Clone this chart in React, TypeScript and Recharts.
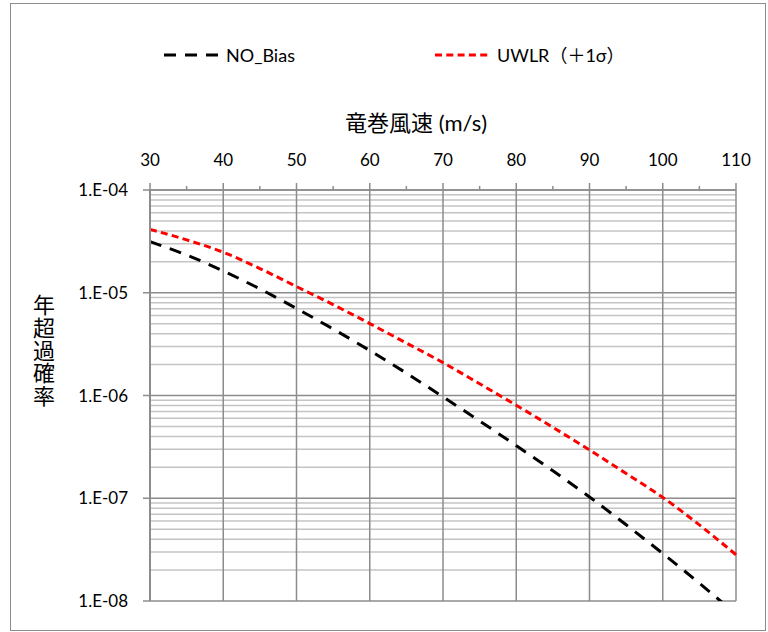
import { LineChart, Line, XAxis, YAxis, ReferenceLine } from "recharts";

// 竜巻風速 (m/s) vs 年超過確率, log scale
const speeds = [30, 35, 40, 45, 50, 55, 60, 65, 70, 75, 80, 85, 90, 95, 100, 105, 110];
const noBias = [
  3.14e-5, 2.33e-5, 1.63e-5, 1.09e-5, 7.03e-6, 4.44e-6, 2.74e-6, 1.65e-6, 9.7e-7,
  5.65e-7, 3.25e-7, 1.85e-7, 1.03e-7, 5.52e-8, 2.9e-8, 1.49e-8, 7.45e-9,
];
const uwlr = [
  4.14e-5, 3.27e-5, 2.48e-5, 1.72e-5, 1.15e-5, 7.67e-6, 5.01e-6, 3.24e-6, 2.09e-6,
  1.3e-6, 8.04e-7, 4.9e-7, 2.95e-7, 1.74e-7, 1.02e-7, 5.5e-8, 2.82e-8,
];
const xTicks = [30, 35, 40, 45, 50, 55, 60, 65, 70, 75, 80, 85, 90, 95, 100, 105, 110];
const xGrid = [40, 50, 60, 70, 80, 90, 100, 110];
const yTicks = [1e-4, 1e-5, 1e-6, 1e-7, 1e-8];
const yMinor = [-8, -7, -6, -5].flatMap((e) =>
  [2, 3, 4, 5, 6, 7, 8, 9].map((m) => Number(`${m}e${e}`))
);

const data = speeds.map((s, i) => ({ speed: s, noBias: noBias[i], uwlr: uwlr[i] }));

const FONT = "Lato, 'Noto Sans CJK JP', sans-serif";

function formatExp(v: number): string {
  const e = Math.round(Math.log10(v));
  return `1.E-${String(Math.abs(e)).padStart(2, "0")}`;
}

function TopTick({ x, y, payload }: { x?: number; y?: number; payload?: { value: number } }) {
  const v = payload?.value ?? 0;
  const major = v % 10 === 0;
  return (
    <g>
      <line x1={x} x2={x} y1={y} y2={(y ?? 0) - (major ? 7 : 4)} stroke="#8c8c8c" strokeWidth={1.5} />
      {major && (
        <text x={x} y={(y ?? 0) - 28} textAnchor="middle" dominantBaseline="middle" fontSize={17} fill="#000">
          {v}
        </text>
      )}
    </g>
  );
}

export default function App() {
  return (
    <div style={{ position: "absolute", left: 0, top: 0, width: 768, height: 632, fontFamily: FONT, background: "#fff" }}>
      <div
        style={{
          position: "absolute",
          left: 10,
          top: 3,
          width: 756,
          height: 628,
          border: "1.5px solid #8c8c8c",
          boxSizing: "border-box",
        }}
      />

      {/* legend */}
      <svg style={{ position: "absolute", left: 160, top: 48 }} width={64} height={14}>
        <line x1={4} x2={58} y1={7} y2={7} stroke="#000" strokeWidth={3} strokeDasharray="12 9" />
      </svg>
      <div style={{ position: "absolute", left: 226, top: 43, fontSize: 18, lineHeight: "24px", color: "#000" }}>
        NO_Bias
      </div>
      <svg style={{ position: "absolute", left: 431, top: 48 }} width={64} height={14}>
        <line x1={4} x2={60} y1={7} y2={7} stroke="#ff0000" strokeWidth={3} strokeDasharray="7 4.3" />
      </svg>
      <div style={{ position: "absolute", left: 497, top: 43, fontSize: 18, lineHeight: "24px", color: "#000" }}>
        UWLR（＋1σ）
      </div>

      {/* x title */}
      <div style={{ position: "absolute", left: 345, top: 109, fontSize: 22, lineHeight: "28px", color: "#000", whiteSpace: "nowrap" }}>
        竜巻風速 (m/s)
      </div>

      {/* y title */}
      <div
        style={{
          position: "absolute",
          left: 30,
          top: 294,
          fontSize: 22,
          lineHeight: "25px",
          letterSpacing: "0.6px",
          writingMode: "vertical-rl",
          textOrientation: "upright",
          color: "#000",
        }}
      >
        年超過確率
      </div>

      <div style={{ position: "absolute", left: 0, top: 0 }}>
        <LineChart width={768} height={632} data={data} margin={{ top: 160, right: 32, bottom: 31, left: 90 }}>
          {yMinor.map((v) => (
            <ReferenceLine key={`ym${v}`} y={v} stroke="#c4c4c4" strokeWidth={1.5} />
          ))}
          {yTicks.map((v) => (
            <ReferenceLine key={`yM${v}`} y={v} stroke="#8c8c8c" strokeWidth={1.5} />
          ))}
          {xGrid.map((v) => (
            <ReferenceLine key={`x${v}`} x={v} stroke="#8c8c8c" strokeWidth={1.5} />
          ))}
          <XAxis
            dataKey="speed"
            type="number"
            orientation="top"
            domain={[30, 110]}
            ticks={xTicks}
            interval={0}
            height={30}
            tickLine={false}
            tickSize={0}
            tickMargin={0}
            axisLine={{ stroke: "#8c8c8c", strokeWidth: 1.5 }}
            tick={<TopTick />}
          />
          <YAxis
            type="number"
            scale="log"
            domain={[1e-8, 1e-4]}
            allowDataOverflow
            ticks={yTicks}
            interval={0}
            width={60}
            tickSize={7}
            tickMargin={15}
            tickFormatter={formatExp}
            tickLine={{ stroke: "#8c8c8c", strokeWidth: 1.5 }}
            axisLine={{ stroke: "#8c8c8c", strokeWidth: 2 }}
            tick={{ fontSize: 17, fill: "#000" }}
          />
          <Line
            type="monotone"
            dataKey="noBias"
            stroke="#000"
            strokeWidth={3}
            strokeDasharray="12 9"
            dot={false}
            isAnimationActive={false}
          />
          <Line
            type="monotone"
            dataKey="uwlr"
            stroke="#ff0000"
            strokeWidth={3}
            strokeDasharray="7 4.3"
            dot={false}
            isAnimationActive={false}
          />
        </LineChart>
      </div>
    </div>
  );
}
